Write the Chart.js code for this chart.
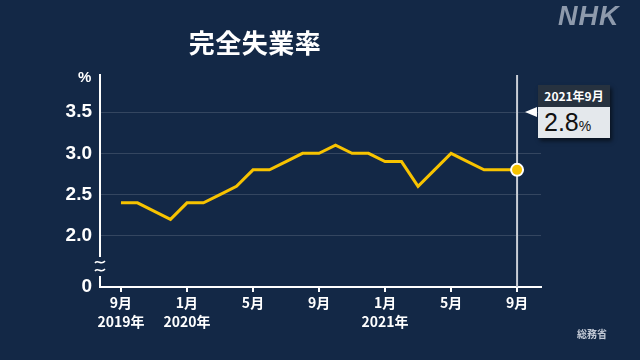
<!DOCTYPE html>
<html><head><meta charset="utf-8">
<script src="https://cdn.jsdelivr.net/npm/chart.js@4/dist/chart.umd.min.js"></script>
<style>
html,body{margin:0;padding:0;background:#132846;}
#wrap{position:relative;width:640px;height:360px;background:#132846;overflow:hidden;font-family:"Noto Sans CJK JP","Liberation Sans",sans-serif;}
canvas{position:absolute;left:0;top:0;}
#title{position:absolute;left:150px;width:210px;top:24px;text-align:center;color:#fff;font-weight:bold;font-size:26px;line-height:36px;letter-spacing:0.5px;}
#nhk{position:absolute;left:558px;top:1px;color:#8e9aac;font-family:"Liberation Sans",sans-serif;font-weight:bold;font-style:italic;font-size:27px;letter-spacing:1px;}
#src{position:absolute;left:577px;top:326px;color:#c3cad6;font-size:10px;font-weight:bold;}
#pct{position:absolute;left:78px;top:68px;color:#fff;font-family:"Liberation Sans",sans-serif;font-weight:bold;font-size:15px;}
#callout{position:absolute;left:538px;top:85px;width:72px;box-shadow:2px 3px 4px rgba(0,0,0,0.55);}
#chead{background:#27323f;color:#fff;font-weight:bold;font-size:12px;height:22px;line-height:22px;text-align:center;}
#cbody{background:#e4e8ec;color:#111;height:31px;line-height:31px;padding-left:6px;font-family:"Liberation Sans",sans-serif;font-size:25px;}
#cbody span{font-size:14px;}
#tri{position:absolute;left:525px;top:107px;width:0;height:0;border-top:5px solid transparent;border-bottom:5px solid transparent;border-right:12px solid #fff;}
</style></head>
<body>
<div id="wrap">
<canvas id="c" width="640" height="360"></canvas>
<div id="title">完全失業率</div>
<div id="nhk">NHK</div>
<div id="pct">%</div>
<div id="src">総務省</div>
<div id="tri"></div>
<div id="callout"><div id="chead">2021年9月</div><div id="cbody">2.8<span>%</span></div></div>
</div>
<script>
// Monthly values, Sep 2019 .. Sep 2021
const months = ['2019-09','2019-10','2019-11','2019-12','2020-01','2020-02','2020-03','2020-04','2020-05','2020-06','2020-07','2020-08','2020-09','2020-10','2020-11','2020-12','2021-01','2021-02','2021-03','2021-04','2021-05','2021-06','2021-07','2021-08','2021-09'];
const rates = [2.4,2.4,2.3,2.2,2.4,2.4,2.5,2.6,2.8,2.8,2.9,3.0,3.0,3.1,3.0,3.0,2.9,2.9,2.6,2.8,3.0,2.9,2.8,2.8,2.8];
const xTickIndex = [0,4,8,12,16,20,24];
const xTickMonth = ['9月','1月','5月','9月','1月','5月','9月'];
const xTickYear = ['2019年','2020年','','','2021年','',''];
const yTicks = [2.0,2.5,3.0,3.5];
const yZeroLabel = '0';
const Y_MIN = 1.38, Y_MAX = 3.95;

const lastIdx = rates.length - 1;

const extras = {
  id:'extras',
  afterDatasetsDraw(chart){
    const {ctx, scales:{x,y}, chartArea:a} = chart;
    // vertical marker line at latest month
    const px = x.getPixelForValue(lastIdx);
    ctx.save();
    ctx.strokeStyle = '#c9ced6'; ctx.lineWidth = 2;
    ctx.beginPath(); ctx.moveTo(px, a.top); ctx.lineTo(px, a.bottom); ctx.stroke();
    // redraw last point on top
    const py = y.getPixelForValue(rates[lastIdx]);
    ctx.beginPath(); ctx.arc(px, py, 6, 0, Math.PI*2);
    ctx.fillStyle = '#f7c300'; ctx.fill();
    ctx.lineWidth = 2; ctx.strokeStyle = '#fff'; ctx.stroke();
    // axis break
    const bx = a.left;
    ctx.fillStyle = '#132846';
    ctx.fillRect(bx-3, 257, 6, 19);
    ctx.strokeStyle = '#fff'; ctx.lineWidth = 1.5;
    [262, 270].forEach(cy=>{
      ctx.beginPath();
      ctx.moveTo(bx-5, cy+1);
      ctx.bezierCurveTo(bx-2, cy-3, bx+1, cy+4, bx+5, cy-1);
      ctx.stroke();
    });
    ctx.restore();
  }
};

new Chart(document.getElementById('c'), {
  type:'line',
  data:{
    datasets:[{
      data: rates.map((v,i)=>({x:i, y:v})),
      borderColor:'#f7c300',
      borderWidth:3,
      pointRadius:0,
      tension:0,
      borderJoinStyle:'miter'
    }]
  },
  options:{
    responsive:false,
    animation:false,
    events:[],
    layout:{padding:{left:0, right:99, top:75, bottom:0}},
    plugins:{legend:{display:false}, tooltip:{enabled:false}},
    scales:{
      x:{
        type:'linear', min:-1.27, max:25.45,
        afterBuildTicks(s){ s.ticks = xTickIndex.map(v=>({value:v})); },
        afterFit(s){ s.height = 73; },
        border:{color:'#fff', width:2},
        grid:{drawOnChartArea:false, drawTicks:true, tickLength:5, color:'#fff', lineWidth:2},
        ticks:{
          color:'#fff', padding:2, maxRotation:0, autoSkip:false,
          font:{family:'"Noto Sans CJK JP", "Liberation Sans", sans-serif', size:14, weight:'bold', lineHeight:1.3},
          callback(v){ const k = xTickIndex.indexOf(v); if(k<0) return ''; return xTickYear[k] ? [xTickMonth[k], xTickYear[k]] : xTickMonth[k]; }
        }
      },
      y:{
        type:'linear', min:Y_MIN, max:Y_MAX,
        afterBuildTicks(s){ s.ticks = [Y_MIN].concat(yTicks).map(v=>({value:v})); },
        afterFit(s){ s.width = 100; },
        border:{color:'#fff', width:2},
        grid:{drawTicks:false, lineWidth:1, color(c){ return c.tick && c.tick.value===Y_MIN ? 'rgba(0,0,0,0)' : 'rgba(255,255,255,0.14)'; }},
        ticks:{
          color:'#fff', padding:8,
          font:{family:'"Liberation Sans", sans-serif', size:19, weight:'bold'},
          callback(v){ return v===Y_MIN ? yZeroLabel : v.toFixed(1); }
        }
      }
    }
  },
  plugins:[extras]
});
</script>
</body></html>
